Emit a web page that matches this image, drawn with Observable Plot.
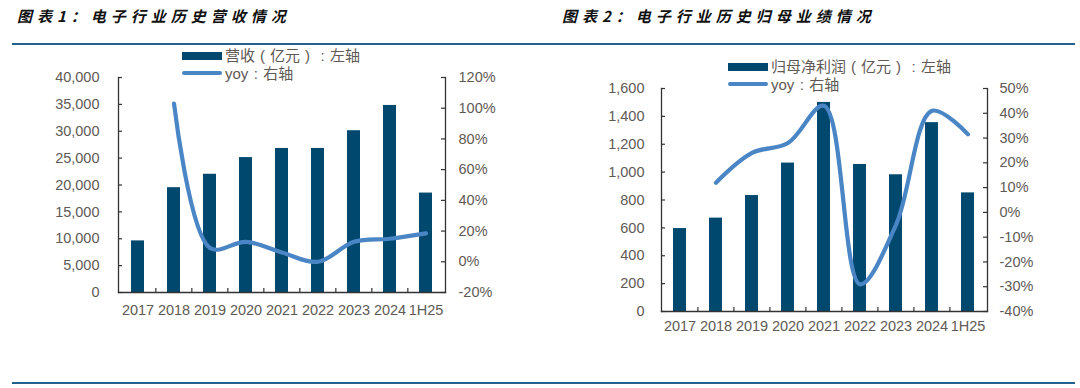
<!DOCTYPE html>
<html lang="zh-CN">
<head>
<meta charset="utf-8">
<script src="https://cdn.jsdelivr.net/npm/d3@7"></script>
<script src="https://cdn.jsdelivr.net/npm/@observablehq/plot@0.6"></script>
<style>
  html, body { margin: 0; padding: 0; background: #fff; }
  #root { position: relative; width: 1080px; height: 388px; background: #fff; overflow: hidden; }
  .title { position: absolute; font-family: "Noto Sans CJK SC", sans-serif; font-weight: bold; font-style: italic; font-size: 15px; letter-spacing: 5px; color: #111; line-height: 20px; white-space: nowrap; z-index: 3; }
  .rule { position: absolute; height: 2px; background: #23618e; }
  .chart { position: absolute; top: 0; }
  .legend { position: absolute; z-index: 3; font-family: "Liberation Sans", "Noto Sans CJK SC", sans-serif; font-size: 15px; color: #5f5a55; line-height: 17px; white-space: nowrap; }
  .legend .row { position: absolute; left: 0; height: 17px; display: flex; align-items: center; }
  .fw { display: inline-block; width: 15px; text-align: center; }
  .sw-bar { display: inline-block; width: 40px; height: 8px; background: #00486e; margin-right: 3px; }
  .sw-line { display: inline-block; width: 40px; height: 4px; border-radius: 2px; background: #4a86c5; margin-right: 3px; }
</style>
</head>
<body>
<div id="root">
  <div class="title" style="left:17px;top:6px">图表1：电子行业历史营收情况</div>
  <div class="title" style="left:562px;top:6px">图表2：电子行业历史归母业绩情况</div>
  <div class="rule" style="left:12px;width:1063px;top:43px"></div>
  <div class="rule" style="left:12px;width:1063px;top:382px"></div>
  <div id="c1" class="chart" style="left:0"></div>
  <div id="c2" class="chart" style="left:540px"></div>
  <div class="legend" style="left:182px;top:47px">
    <div class="row" style="top:0"><span class="sw-bar"></span>营收<span class="fw">(</span>亿元<span class="fw">)</span><span class="fw">:</span>左轴</div>
    <div class="row" style="top:17.5px"><span class="sw-line"></span>yoy<span class="fw">:</span>右轴</div>
  </div>
  <div class="legend" style="left:728px;top:58px">
    <div class="row" style="top:0"><span class="sw-bar"></span>归母净利润<span class="fw">(</span>亿元<span class="fw">)</span><span class="fw">:</span>左轴</div>
    <div class="row" style="top:17.5px"><span class="sw-line"></span>yoy<span class="fw">:</span>右轴</div>
  </div>
</div>
<script>
// ---- data ----
const categories = ["2017", "2018", "2019", "2020", "2021", "2022", "2023", "2024", "1H25"];
const revenue = [9600, 19500, 22000, 25100, 26800, 26800, 30100, 34800, 18500];
const revenueYoy = [null, 103, 9, 13, 6, 0, 13, 15, 18.5];
const profit = [595, 670, 832, 1065, 1500, 1055, 981, 1355, 851];
const profitYoy = [null, 12, 24, 28, 43, -29, -5, 41, 31.5];
const revenueTicks = [0, 5000, 10000, 15000, 20000, 25000, 30000, 35000, 40000];
const revenueYoyTicks = [-20, 0, 20, 40, 60, 80, 100, 120];
const profitTicks = [0, 200, 400, 600, 800, 1000, 1200, 1400, 1600];
const profitYoyTicks = [-40, -30, -20, -10, 0, 10, 20, 30, 40, 50];

const BAR = "#00486e", LINE = "#4a86c5", AXIS = "#333", LABEL = "#5f5a55";

function makeChart(cfg) {
  const W = 540, H = 388;
  const pw = W - cfg.marginLeft - cfg.marginRight;
  const ph = H - cfg.marginTop - cfg.marginBottom;
  const step = pw / categories.length;
  const yDom = [cfg.yTicks[0], cfg.yTicks[cfg.yTicks.length - 1]];
  const rDom = [cfg.rTicks[0], cfg.rTicks[cfg.rTicks.length - 1]];
  const toLeft = d3.scaleLinear().domain(rDom).range(yDom);
  const bars = categories.map((c, i) => ({cat: c, value: cfg.values[i]}));
  const line = categories.map((c, i) => ({cat: c, yoy: cfg.yoy[i]})).filter(d => d.yoy != null);
  return Plot.plot({
    width: W, height: H,
    marginLeft: cfg.marginLeft, marginRight: cfg.marginRight,
    marginTop: cfg.marginTop, marginBottom: cfg.marginBottom,
    style: {background: "transparent", fontFamily: "'Liberation Sans', Arial, sans-serif", fontSize: "14.5px", color: LABEL},
    x: {domain: categories, paddingInner: 0.63, paddingOuter: 0.315},
    y: {domain: yDom},
    marks: [
      Plot.barY(bars, {x: "cat", y: "value", fill: BAR}),
      Plot.line(line, {x: "cat", y: d => toLeft(d.yoy), stroke: LINE, strokeWidth: 4.2, curve: "catmull-rom", strokeLinecap: "round", strokeLinejoin: "round"}),
      Plot.frame({anchor: "left", stroke: AXIS, strokeWidth: 1.3}),
      Plot.frame({anchor: "right", stroke: AXIS, strokeWidth: 1.3}),
      Plot.frame({anchor: "bottom", stroke: AXIS, strokeWidth: 1.3}),
      Plot.tickY(cfg.yTicks, {y: d => d, insetRight: pw - 4, stroke: AXIS, strokeWidth: 1.2}),
      Plot.tickY(cfg.rTicks.map(v => toLeft(v)), {y: d => d, insetLeft: pw - 4, stroke: AXIS, strokeWidth: 1.2}),
      Plot.tickX(categories.slice(1), {x: d => d, dx: -step / 2, insetTop: ph - 4, stroke: AXIS, strokeWidth: 1.2}),
      Plot.axisY(cfg.yTicks, {anchor: "left", label: null, tickSize: 0, tickPadding: cfg.leftPad, tickFormat: d3.format(",")}),
      Plot.axisY(cfg.rTicks.map(v => toLeft(v)), {anchor: "right", label: null, tickSize: 0, tickPadding: cfg.rightPad, tickFormat: v => Math.round(toLeft.invert(v)) + "%"}),
      Plot.axisX({label: null, tickSize: 0, tickPadding: cfg.xPad})
    ]
  });
}

document.getElementById("c1").appendChild(makeChart({
  marginLeft: 118, marginRight: 95, marginTop: 77, marginBottom: 96,
  values: revenue, yoy: revenueYoy, yTicks: revenueTicks, rTicks: revenueYoyTicks,
  leftPad: 19, rightPad: 13, xPad: 12
}));
document.getElementById("c2").appendChild(makeChart({
  marginLeft: 121, marginRight: 93, marginTop: 88, marginBottom: 77,
  values: profit, yoy: profitYoy, yTicks: profitTicks, rTicks: profitYoyTicks,
  leftPad: 17, rightPad: 12, xPad: 9
}));
</script>
</body>
</html>
